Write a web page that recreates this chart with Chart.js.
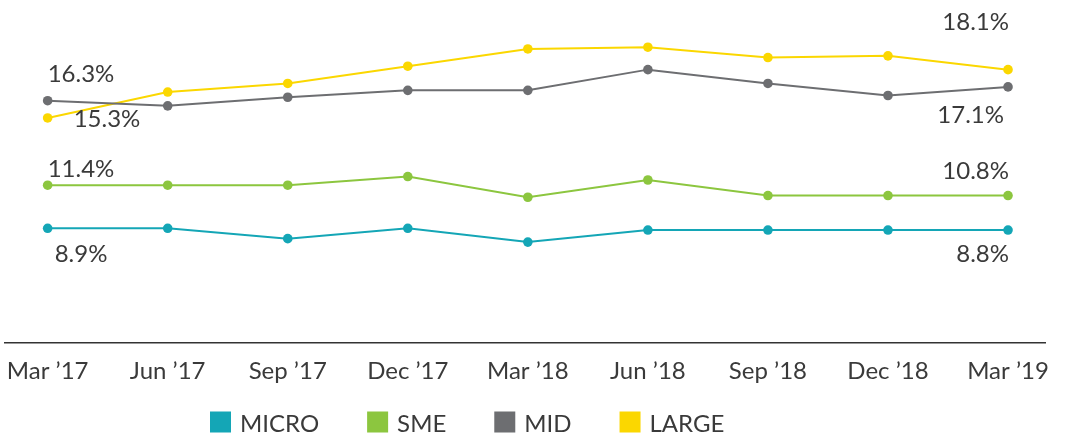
<!DOCTYPE html>
<html>
<head>
<meta charset="utf-8">
<title>Segment rates</title>
<script src="https://cdn.jsdelivr.net/npm/chart.js@4.4.1/dist/chart.umd.min.js"></script>
<style>
  html, body { margin: 0; padding: 0; background: #fff; }
  #wrap { width: 1067px; height: 436px; }
</style>
</head>
<body>
<div id="wrap"><canvas id="my-chart"></canvas></div>
<script>
'use strict';

// ******* DATA *********
let quarters = ['Mar \u201917', 'Jun \u201917', 'Sep \u201917', 'Dec \u201917', 'Mar \u201918', 'Jun \u201918', 'Sep \u201918', 'Dec \u201918', 'Mar \u201919'];
let microValues = [8.9, 8.9, 8.3, 8.9, 8.1, 8.8, 8.8, 8.8, 8.8];
let smeValues = [11.4, 11.4, 11.4, 11.9, 10.7, 11.7, 10.8, 10.8, 10.8];
let midValues = [16.3, 16.0, 16.5, 16.9, 16.9, 18.1, 17.3, 16.6, 17.1];
let largeValues = [15.3, 16.8, 17.3, 18.3, 19.3, 19.4, 18.8, 18.9, 18.1];

// ******* STYLE *********
let textColor = '#3a3a3a';
let fontFamily = 'Lato, "Open Sans", sans-serif';
let fontSize = 24;

let seriesList = [
  { label: 'MICRO', data: microValues, color: '#14a6b6' },
  { label: 'SME', data: smeValues, color: '#8cc63f' },
  { label: 'MID', data: midValues, color: '#6d6e71' },
  { label: 'LARGE', data: largeValues, color: '#fbd700' }
];

// which points get a value label, and where the text sits next to the dot
let valueLabels = [
  { series: 0, index: 0, align: 'left', dx: 7, dy: 34 },
  { series: 0, index: 8, align: 'right', dx: 1, dy: 32 },
  { series: 1, index: 0, align: 'left', dx: 0, dy: -8 },
  { series: 1, index: 8, align: 'right', dx: 1, dy: -17 },
  { series: 2, index: 0, align: 'left', dx: 0, dy: -19 },
  { series: 2, index: 8, align: 'right', dx: -4, dy: 36 },
  { series: 3, index: 0, align: 'left', dx: 26, dy: 9 },
  { series: 3, index: 8, align: 'right', dx: 1, dy: -40 }
];

// legend row under the axis
let legendLeft = 210;
let legendMiddle = 422;
let legendBox = 21;
let legendTextGap = 9;
let legendItemGap = 48;

// ***** PLUGIN: value labels on end points *****
let endLabels = {
  id: 'endLabels',
  afterDatasetsDraw(chart) {
    let c = chart.ctx;
    c.save();
    c.font = fontSize + 'px ' + fontFamily;
    c.fillStyle = textColor;
    c.textBaseline = 'alphabetic';
    for (let i = 0; i < valueLabels.length; i++) {
      let spec = valueLabels[i];
      let point = chart.getDatasetMeta(spec.series).data[spec.index];
      let value = seriesList[spec.series].data[spec.index];
      c.textAlign = spec.align;
      c.fillText(value.toFixed(1) + '%', point.x + spec.dx, point.y + spec.dy);
    }
    c.restore();
  }
};

// ***** PLUGIN: square-box legend *****
let boxLegend = {
  id: 'boxLegend',
  afterDraw(chart) {
    let c = chart.ctx;
    c.save();
    c.font = fontSize + 'px ' + fontFamily;
    c.textAlign = 'left';
    c.textBaseline = 'middle';
    let x = legendLeft;
    chart.data.datasets.forEach(function (ds) {
      c.fillStyle = ds.borderColor;
      c.fillRect(x, legendMiddle - legendBox / 2, legendBox, legendBox);
      x += legendBox + legendTextGap;
      c.fillStyle = textColor;
      c.fillText(ds.label, x, legendMiddle + 2);
      x += c.measureText(ds.label).width + legendItemGap;
    });
    c.restore();
  }
};

// ***** BUILD CHART *****
let ctx = document.getElementById('my-chart');

let datasets = seriesList.map(function (s) {
  return {
    label: s.label,
    data: s.data.map(function (v, i) { return { x: i, y: v }; }),
    borderColor: s.color,
    backgroundColor: s.color,
    pointBackgroundColor: s.color,
    pointBorderColor: s.color,
    borderWidth: 2,
    pointRadius: 4.8,
    pointBorderWidth: 0,
    tension: 0
  };
});

let chartObj = {
  type: 'line',
  data: { datasets: datasets },
  options: {
    responsive: true,
    maintainAspectRatio: false,
    animation: false,
    layout: { padding: { top: 11, left: 0, right: 22, bottom: 36 } },
    plugins: {
      tooltip: { enabled: false },
      legend: { display: false }
    },
    scales: {
      x: {
        type: 'linear',
        min: -0.357,
        max: 8.308,
        grid: { display: false, drawTicks: false },
        border: { display: true, color: '#333', width: 1.5 },
        afterBuildTicks: function (scale) {
          scale.ticks = quarters.map(function (q, i) { return { value: i }; });
        },
        afterFit: function (scale) {
          scale.height = 57;
          scale.paddingLeft = 0;
          scale.paddingRight = 0;
        },
        ticks: {
          padding: 14,
          color: textColor,
          maxRotation: 0,
          autoSkip: false,
          font: { family: fontFamily, size: fontSize },
          callback: function (value) { return quarters[value]; }
        }
      },
      y: {
        display: false,
        min: 2.25,
        max: 21.5
      }
    }
  },
  plugins: [endLabels, boxLegend]
};

new Chart(ctx, chartObj); //eslint-disable-line
</script>
</body>
</html>
